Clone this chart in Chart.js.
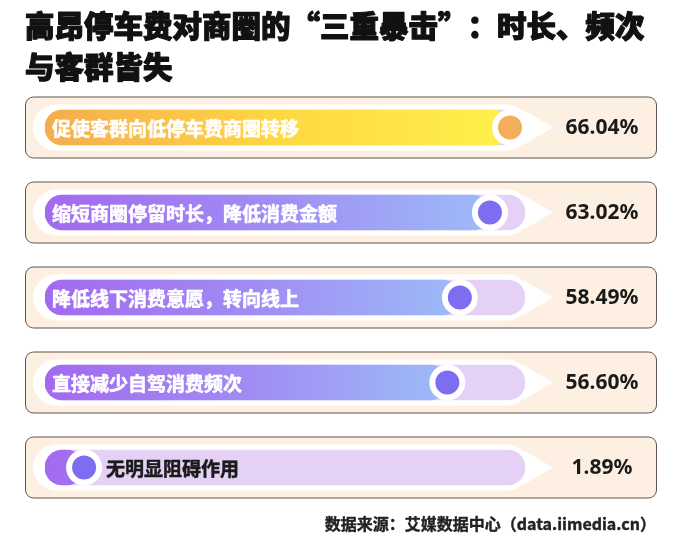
<!DOCTYPE html>
<html lang="zh">
<head>
<meta charset="UTF-8">
<title>高昂停车费对商圈的“三重暴击”</title>
<script src="https://cdn.jsdelivr.net/npm/chart.js"></script>
<style>
  body { margin: 0; background: #fff; }
  canvas { display: block; }
</style>
</head>
<body>
<canvas id="chart" width="682" height="550"></canvas>
<script>
// Chart data
const titleLines = ['高昂停车费对商圈的“三重暴击”：时长、频次', '与客群皆失'];
const categories = [
  '促使客群向低停车费商圈转移',
  '缩短商圈停留时长，降低消费金额',
  '降低线下消费意愿，转向线上',
  '直接减少自驾消费频次',
  '无明显阻碍作用'
];
const shares = [66.04, 63.02, 58.49, 56.60, 1.89];
const sourceNote = '数据来源：艾媒数据中心（data.iimedia.cn）';

const X_MIN = -4;
const X_MAX = 68.3;
const CJK = '"Noto Sans CJK SC", "Noto Sans", sans-serif';

function roundedRect(ctx, x, y, w, h, r) {
  r = Math.min(r, w / 2, h / 2);
  ctx.beginPath();
  ctx.moveTo(x + r, y);
  ctx.lineTo(x + w - r, y);
  ctx.arcTo(x + w, y, x + w, y + r, r);
  ctx.lineTo(x + w, y + h - r);
  ctx.arcTo(x + w, y + h, x + w - r, y + h, r);
  ctx.lineTo(x + r, y + h);
  ctx.arcTo(x, y + h, x, y + h - r, r);
  ctx.lineTo(x, y + r);
  ctx.arcTo(x, y, x + r, y, r);
  ctx.closePath();
}

// heavy text: fill plus a thin stroke of the same colour
function heavyText(ctx, text, x, y, weight) {
  ctx.lineWidth = weight;
  ctx.lineJoin = 'round';
  ctx.strokeStyle = ctx.fillStyle;
  ctx.strokeText(text, x, y);
  ctx.fillText(text, x, y);
}

// Cards and white speech-bubble behind the bars
const cardsPlugin = {
  id: 'cards',
  beforeDatasetsDraw(chart) {
    const ctx = chart.ctx;
    const yScale = chart.scales.y;
    ctx.save();
    categories.forEach((_, i) => {
      const y = yScale.getPixelForValue(i);
      roundedRect(ctx, 25.5, y - 30.5, 631, 61, 8);
      ctx.fillStyle = '#FDF0E3';
      ctx.fill();
      ctx.strokeStyle = '#5f534b';
      ctx.lineWidth = 1;
      ctx.stroke();

      ctx.fillStyle = '#ffffff';
      roundedRect(ctx, 33, y - 23, 497, 46, 23);
      ctx.fill();
      ctx.beginPath();
      ctx.moveTo(524, y - 17);
      ctx.lineTo(553, y);
      ctx.lineTo(524, y + 17);
      ctx.closePath();
      ctx.fill();
    });
    ctx.restore();
  },
  afterDatasetsDraw(chart) {
    const ctx = chart.ctx;
    const meta = chart.getDatasetMeta(0);
    ctx.save();
    meta.data.forEach((bar, i) => {
      // knob
      ctx.fillStyle = '#ffffff';
      ctx.beginPath();
      ctx.arc(bar.x, bar.y, 18, 0, Math.PI * 2);
      ctx.fill();
      ctx.fillStyle = i === 0 ? '#F2AE5A' : '#7D6DF0';
      ctx.beginPath();
      ctx.arc(bar.x, bar.y, 12, 0, Math.PI * 2);
      ctx.fill();

      // category label
      ctx.font = 'bold 19px ' + CJK;
      ctx.textBaseline = 'middle';
      ctx.textAlign = 'left';
      if (bar.x > 200) {
        ctx.fillStyle = '#ffffff';
        heavyText(ctx, categories[i], 52, bar.y + 1, 0.6);
      } else {
        ctx.fillStyle = '#1a1a1a';
        heavyText(ctx, categories[i], bar.x + 22, bar.y + 1, 0.5);
      }

      // value label
      ctx.fillStyle = '#1a1a1a';
      ctx.font = 'bold 21px "Noto Sans", ' + CJK;
      ctx.textAlign = 'center';
      ctx.fillText(shares[i].toFixed(2) + '%', 602, bar.y + 1);
    });
    ctx.restore();
  },
  afterDraw(chart) {
    const ctx = chart.ctx;
    ctx.save();
    ctx.fillStyle = '#111111';
    ctx.textBaseline = 'middle';
    ctx.textAlign = 'left';
    ctx.font = '900 29.5px ' + CJK;
    heavyText(ctx, titleLines[0], 25, 26, 1.2);
    heavyText(ctx, titleLines[1], 25, 67, 1.2);

    ctx.font = 'bold 16px ' + CJK;
    ctx.textAlign = 'right';
    ctx.fillStyle = '#222222';
    heavyText(ctx, sourceNote, 656, 524, 0.4);
    ctx.restore();
  }
};

function barGradient(ctx) {
  const chart = ctx.chart;
  const area = chart.chartArea;
  const i = ctx.dataIndex;
  const stops = i === 0
    ? ['#F5AC4F', '#FFD742', '#FFF04C']
    : ['#A369F0', '#A08CF4', '#9DBBF8'];
  if (!area || i === undefined) return stops[0];
  const x1 = Math.max(chart.scales.x.getPixelForValue(shares[i]), area.left + 250);
  const g = chart.ctx.createLinearGradient(area.left, 0, x1, 0);
  g.addColorStop(0, stops[0]);
  g.addColorStop(0.5, stops[1]);
  g.addColorStop(1, stops[2]);
  return g;
}

new Chart(document.getElementById('chart'), {
  type: 'bar',
  data: {
    labels: categories,
    datasets: [
      {
        label: '占比',
        data: shares,
        base: X_MIN,
        backgroundColor: barGradient,
        borderRadius: 18,
        borderSkipped: false,
        barThickness: 35,
        grouped: false,
        order: 1
      },
      {
        label: 'track',
        data: categories.map(() => X_MAX),
        base: X_MIN,
        backgroundColor: '#E5D1F6',
        borderRadius: 18,
        borderSkipped: false,
        barThickness: 35,
        grouped: false,
        order: 2
      }
    ]
  },
  options: {
    indexAxis: 'y',
    responsive: false,
    animation: false,
    layout: { padding: { left: 45, right: 157, top: 85, bottom: 40 } },
    scales: {
      x: { min: X_MIN, max: X_MAX, display: false },
      y: { display: false }
    },
    plugins: {
      legend: { display: false },
      tooltip: { enabled: false },
      title: { display: false }
    }
  },
  plugins: [cardsPlugin]
});
</script>
</body>
</html>
